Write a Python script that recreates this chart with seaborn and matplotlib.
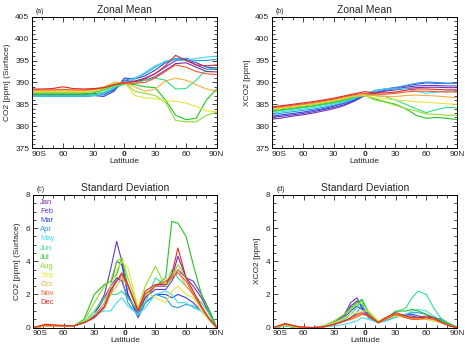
import numpy as np
import pandas as pd
import matplotlib
matplotlib.use("Agg")
import matplotlib.pyplot as plt
from matplotlib.ticker import MultipleLocator
import seaborn as sns

sns.set_style("ticks")
plt.rcParams['font.family'] = ['Liberation Sans', 'DejaVu Sans']

# dados
MONTHS = ['Jan', 'Feb', 'Mar', 'Apr', 'May', 'Jun', 'Jul', 'Aug', 'Sep', 'Oct', 'Nov', 'Dec']
COLORS = ['#7a2aa8', '#5e3ccc', '#2f45d8', '#2a9ae8', '#3fdcee', '#33dd88',
          '#22c422', '#8fdc2a', '#e6e63a', '#f5b03c', '#f25a2c', '#dc2a2a']

# latitudes das medias zonais (a, b)
LAT = [-90, -80, -70, -60, -50, -40, -30, -20, -10, 0, 10, 20, 30, 40, 50, 60, 70, 80, 90]
# latitudes dos desvios padrao (c, d)
LAT_SD = [-90, -78, -65, -50, -40, -30, -20, -14, -8, -3, 3, 13, 20, 30, 40, 46, 52, 60, 67, 75, 83, 90]

# (a) CO2 superficie, media zonal [ppm]
co2_sfc = [
    [387.2, 387.2, 387.2, 387.2, 387.2, 387.2, 387.4, 387.6, 388.5, 390.0, 390.2, 390.5, 391.3, 392.8, 394.3, 394.5, 393.5, 392.5, 392.4],
    [387.0, 387.0, 387.0, 387.0, 387.0, 387.0, 387.2, 387.2, 388.3, 390.5, 390.3, 391.0, 392.0, 393.5, 395.0, 395.2, 394.0, 393.0, 393.0],
    [386.8, 386.8, 386.8, 386.8, 386.8, 386.8, 387.0, 386.8, 388.0, 391.0, 390.8, 391.5, 392.8, 394.5, 395.3, 395.3, 394.5, 393.5, 393.3],
    [386.8, 386.8, 386.8, 386.8, 386.8, 386.8, 387.0, 387.3, 388.5, 390.5, 391.0, 392.0, 393.5, 394.8, 395.5, 395.5, 395.0, 395.0, 395.3],
    [386.9, 386.9, 386.9, 386.9, 386.9, 386.9, 387.0, 387.5, 388.8, 390.0, 390.8, 392.3, 393.8, 394.8, 395.2, 395.0, 395.5, 395.8, 396.0],
    [387.1, 387.1, 387.1, 387.1, 387.1, 387.1, 387.2, 387.8, 389.0, 389.5, 389.8, 390.5, 391.0, 390.5, 388.5, 388.6, 390.5, 393.0, 393.2],
    [387.4, 387.4, 387.4, 387.4, 387.4, 387.4, 387.6, 388.3, 389.3, 389.8, 389.5, 389.0, 388.8, 386.0, 382.5, 381.5, 381.8, 386.0, 388.5],
    [387.7, 387.7, 387.7, 387.7, 387.7, 387.7, 387.9, 388.6, 389.5, 390.0, 388.0, 387.5, 387.0, 385.5, 381.3, 381.0, 381.0, 382.5, 383.2],
    [387.9, 387.9, 387.9, 387.9, 387.9, 387.9, 388.1, 388.8, 389.8, 390.0, 387.0, 386.5, 386.3, 385.8, 385.7, 385.3, 384.5, 383.5, 383.3],
    [388.1, 388.1, 388.1, 388.1, 388.1, 388.1, 388.3, 389.0, 390.0, 390.0, 389.0, 388.0, 388.5, 390.3, 391.0, 390.5, 389.5, 388.5, 388.0],
    [388.3, 388.3, 388.3, 388.4, 388.3, 388.3, 388.4, 388.8, 389.5, 389.8, 389.8, 390.0, 391.0, 392.5, 394.0, 393.5, 392.5, 392.0, 391.8],
    [388.5, 388.5, 388.6, 389.0, 388.6, 388.5, 388.6, 388.8, 389.5, 390.0, 390.2, 390.8, 392.0, 393.8, 396.2, 395.0, 394.0, 393.8, 394.0],
]

# (b) XCO2, media zonal [ppm]
xco2 = [
    [381.6, 381.9, 382.3, 382.6, 383.0, 383.5, 384.0, 384.7, 385.7, 387.0, 387.5, 388.0, 388.3, 388.6, 388.8, 388.9, 388.9, 388.8, 388.8],
    [382.0, 382.3, 382.6, 382.9, 383.3, 383.8, 384.3, 384.9, 385.8, 387.0, 387.7, 388.2, 388.5, 388.9, 389.2, 389.3, 389.3, 389.2, 389.2],
    [382.3, 382.6, 382.9, 383.2, 383.6, 384.0, 384.6, 385.2, 386.0, 387.1, 388.0, 388.5, 388.8, 389.2, 389.6, 389.9, 389.8, 389.8, 389.8],
    [382.7, 383.0, 383.3, 383.6, 383.9, 384.3, 384.8, 385.4, 386.2, 387.2, 388.2, 388.5, 388.8, 389.3, 389.8, 390.1, 390.0, 389.8, 389.8],
    [383.0, 383.3, 383.6, 383.9, 384.2, 384.6, 385.1, 385.6, 386.4, 387.2, 388.0, 388.5, 388.5, 388.6, 388.0, 387.5, 387.8, 388.0, 388.2],
    [383.3, 383.6, 383.9, 384.2, 384.5, 384.9, 385.3, 385.8, 386.6, 387.2, 387.0, 386.8, 386.0, 385.0, 384.0, 383.1, 383.8, 384.3, 384.2],
    [383.5, 383.8, 384.1, 384.4, 384.7, 385.1, 385.5, 386.0, 386.7, 387.1, 386.2, 385.6, 385.0, 384.0, 382.5, 381.8, 382.0, 381.8, 381.5],
    [383.7, 384.0, 384.3, 384.6, 384.9, 385.3, 385.7, 386.2, 386.8, 387.0, 386.0, 385.5, 384.8, 384.0, 383.5, 382.8, 382.7, 382.5, 382.5],
    [383.9, 384.2, 384.5, 384.8, 385.1, 385.5, 385.9, 386.4, 386.9, 387.0, 386.5, 386.3, 386.0, 385.8, 385.6, 385.5, 385.3, 385.1, 385.0],
    [384.0, 384.3, 384.6, 384.9, 385.2, 385.6, 386.0, 386.5, 387.0, 387.2, 387.0, 386.8, 386.8, 387.0, 387.1, 387.0, 386.9, 386.7, 386.5],
    [384.2, 384.5, 384.8, 385.1, 385.4, 385.8, 386.2, 386.7, 387.2, 387.5, 387.3, 387.3, 387.5, 387.8, 388.0, 388.0, 387.9, 387.8, 387.8],
    [384.4, 384.7, 385.0, 385.3, 385.6, 386.0, 386.4, 386.9, 387.4, 387.9, 387.6, 387.6, 387.8, 388.2, 388.5, 388.5, 388.4, 388.3, 388.3],
]

# (c) desvio padrao CO2 superficie [ppm]
sd_sfc = [
    [0, 0.1, 0.1, 0.1, 0.3, 0.8, 1.8, 2.5, 3.0, 2.8, 1.8, 1.0, 1.8, 2.5, 2.5, 3.0, 4.3, 3.0, 2.5, 1.8, 0.8, 0],
    [0, 0.1, 0.1, 0.1, 0.3, 0.8, 2.0, 3.5, 5.2, 4.0, 2.0, 0.8, 1.8, 2.3, 2.3, 2.8, 3.5, 3.0, 2.8, 2.0, 1.0, 0],
    [0, 0.1, 0.1, 0.1, 0.3, 0.7, 1.5, 2.5, 4.0, 3.8, 2.0, 0.6, 1.5, 2.0, 2.0, 1.8, 2.0, 1.8, 1.5, 1.0, 0.5, 0],
    [0, 0.1, 0.1, 0.1, 0.3, 0.6, 1.2, 2.0, 3.0, 3.0, 1.5, 0.7, 1.5, 2.0, 1.8, 1.3, 1.2, 1.4, 1.3, 1.0, 0.5, 0],
    [0, 0.1, 0.1, 0.1, 0.3, 0.8, 1.0, 1.0, 1.5, 1.8, 1.3, 0.8, 1.2, 2.0, 2.2, 2.0, 1.5, 1.5, 1.2, 1.0, 0.5, 0],
    [0, 0.1, 0.1, 0.1, 0.3, 1.0, 1.8, 2.0, 2.0, 2.2, 1.8, 1.0, 1.5, 3.0, 2.5, 3.5, 3.0, 2.5, 2.0, 1.5, 0.8, 0],
    [0, 0.1, 0.1, 0.1, 0.5, 2.0, 2.6, 2.8, 3.2, 4.2, 2.5, 1.0, 2.0, 2.5, 3.0, 6.4, 6.3, 5.5, 3.8, 2.0, 1.0, 0],
    [0, 0.1, 0.1, 0.1, 0.4, 1.5, 2.5, 2.8, 4.0, 4.2, 3.0, 1.2, 2.5, 3.7, 2.5, 3.0, 3.8, 3.0, 2.2, 1.2, 0.5, 0],
    [0, 0.1, 0.1, 0.1, 0.3, 0.8, 1.5, 2.5, 3.5, 4.0, 3.6, 1.2, 2.2, 1.8, 1.5, 2.2, 2.5, 2.0, 1.8, 1.0, 0.4, 0],
    [0, 0.1, 0.1, 0.1, 0.3, 0.6, 1.2, 2.0, 2.5, 3.0, 2.5, 1.2, 2.0, 2.5, 2.8, 3.2, 3.5, 2.5, 2.0, 1.2, 0.5, 0],
    [0, 0.15, 0.1, 0.1, 0.3, 0.6, 1.2, 2.2, 2.8, 3.2, 2.5, 1.0, 2.0, 2.5, 2.8, 3.0, 3.3, 2.8, 2.0, 1.2, 0.5, 0],
    [0, 0.2, 0.15, 0.1, 0.3, 0.6, 1.3, 2.3, 2.8, 3.3, 2.6, 1.0, 2.2, 2.6, 2.6, 3.2, 4.8, 3.0, 2.2, 1.3, 0.5, 0],
]

# (d) desvio padrao XCO2 [ppm]
sd_xco2 = [
    [0, 0.15, 0, 0, 0.05, 0.3, 0.8, 1.5, 1.8, 1.2, 0.8, 0.3, 0.5, 0.8, 0.7, 0.6, 0.6, 0.5, 0.5, 0.4, 0.2, 0],
    [0, 0.15, 0, 0, 0.05, 0.3, 0.7, 1.3, 1.6, 1.3, 0.8, 0.3, 0.5, 0.8, 0.7, 0.7, 0.6, 0.6, 0.6, 0.5, 0.2, 0],
    [0, 0.1, 0, 0, 0.05, 0.3, 0.6, 1.0, 1.3, 1.1, 0.7, 0.3, 0.5, 0.7, 0.8, 0.8, 0.7, 0.6, 0.6, 0.5, 0.2, 0],
    [0, 0.1, 0, 0, 0.05, 0.2, 0.4, 0.6, 0.9, 1.4, 0.6, 0.3, 0.4, 0.7, 0.8, 0.9, 0.9, 0.8, 0.6, 0.4, 0.2, 0],
    [0, 0.1, 0, 0, 0.05, 0.1, 0.2, 0.3, 0.4, 0.6, 0.5, 0.3, 0.4, 0.6, 0.8, 1.0, 1.1, 1.0, 0.7, 0.4, 0.2, 0],
    [0, 0.1, 0, 0, 0.05, 0.2, 0.5, 0.8, 1.2, 1.7, 1.0, 0.3, 0.5, 0.9, 1.2, 1.8, 2.2, 2.0, 1.2, 0.5, 0.2, 0],
    [0, 0.15, 0, 0, 0.1, 0.4, 0.8, 1.2, 1.5, 1.7, 0.9, 0.3, 0.5, 1.0, 1.0, 1.1, 1.0, 0.8, 0.6, 0.4, 0.2, 0],
    [0, 0.15, 0, 0, 0.1, 0.4, 0.8, 1.1, 1.4, 1.5, 1.0, 0.4, 0.6, 0.8, 0.7, 0.6, 0.6, 0.5, 0.4, 0.3, 0.1, 0],
    [0, 0.15, 0, 0, 0.05, 0.3, 0.6, 0.8, 0.9, 1.0, 1.0, 0.4, 0.5, 0.7, 0.6, 0.5, 0.5, 0.5, 0.4, 0.3, 0.1, 0],
    [0, 0.2, 0, 0, 0.05, 0.2, 0.4, 0.5, 0.6, 0.8, 0.7, 0.3, 0.5, 0.8, 0.6, 0.5, 0.5, 0.5, 0.5, 0.3, 0.1, 0],
    [0, 0.2, 0.05, 0, 0.05, 0.2, 0.4, 0.5, 0.7, 0.8, 0.8, 0.3, 0.5, 0.8, 0.6, 0.5, 0.5, 0.6, 0.5, 0.3, 0.1, 0],
    [0, 0.25, 0.05, 0, 0.05, 0.2, 0.4, 0.6, 0.8, 0.9, 0.7, 0.3, 0.6, 0.9, 0.7, 0.6, 0.6, 0.7, 0.6, 0.3, 0.1, 0],
]

XTICKS = [-90, -60, -30, 0, 30, 60, 90]
XLABELS = ['90S', '60', '30', '0', '30', '60', '90N']


def to_long(lats, rows):
    # tabela longa para o seaborn
    return pd.DataFrame({
        'lat': np.tile(lats, len(MONTHS)),
        'val': np.concatenate(rows),
        'month': np.repeat(MONTHS, len(lats)),
    })


fig = plt.figure(figsize=(4.65, 3.5), dpi=100)
axa = fig.add_axes([0.069, 0.577, 0.397, 0.375])
axb = fig.add_axes([0.585, 0.577, 0.398, 0.375])
axc = fig.add_axes([0.071, 0.064, 0.395, 0.379])
axd = fig.add_axes([0.587, 0.064, 0.396, 0.379])

panels = [
    (axa, LAT, co2_sfc, '(a)', 'Zonal Mean', 'CO2 [ppm] (Surface)', (375, 405), 5, 1),
    (axb, LAT, xco2, '(b)', 'Zonal Mean', 'XCO2 [ppm]', (375, 405), 5, 1),
    (axc, LAT_SD, sd_sfc, '(c)', 'Standard Deviation', 'CO2 [ppm] (Surface)', (0, 8), 2, 0.5),
    (axd, LAT_SD, sd_xco2, '(d)', 'Standard Deviation', 'XCO2 [ppm]', (0, 8), 2, 0.5),
]

for ax, lats, rows, tag, title, ylab, ylim, major, minor in panels:
    sns.lineplot(data=to_long(lats, rows), x='lat', y='val', hue='month',
                 palette=COLORS, legend=False, linewidth=0.8, ax=ax)
    ax.set_xlim(-90, 90)
    ax.set_ylim(*ylim)
    ax.set_xticks(XTICKS)
    ax.set_xticklabels(XLABELS)
    labs = ax.get_xticklabels()
    labs[3].set_fontweight('bold')
    labs[0].set_horizontalalignment('left')   # 90S fica a direita do eixo, como no original
    ax.xaxis.set_minor_locator(MultipleLocator(10))
    ax.yaxis.set_major_locator(MultipleLocator(major))
    ax.yaxis.set_minor_locator(MultipleLocator(minor))
    ax.tick_params(which='both', direction='in', top=True, right=True,
                   labelsize=6, pad=2, width=0.6)
    ax.tick_params(which='major', length=3.5)
    ax.tick_params(which='minor', length=2)
    for s in ax.spines.values():
        s.set_linewidth(0.7)
        s.set_color('black')
    ax.set_xlabel('Latitude', fontsize=6, labelpad=0)
    ax.set_ylabel(ylab, fontsize=6, labelpad=3)
    ax.set_title(title, fontsize=7.5, pad=3)
    ax.text(0.02, 1.015, tag, transform=ax.transAxes, fontsize=5, va='bottom')

# legenda dos meses no painel (c)
for i, (m, c) in enumerate(zip(MONTHS, COLORS)):
    axc.text(0.04, 0.94 - i * 0.068, m, color=c, fontsize=5.5,
             transform=axc.transAxes, va='center')

fig.savefig('out.png', dpi=100)
